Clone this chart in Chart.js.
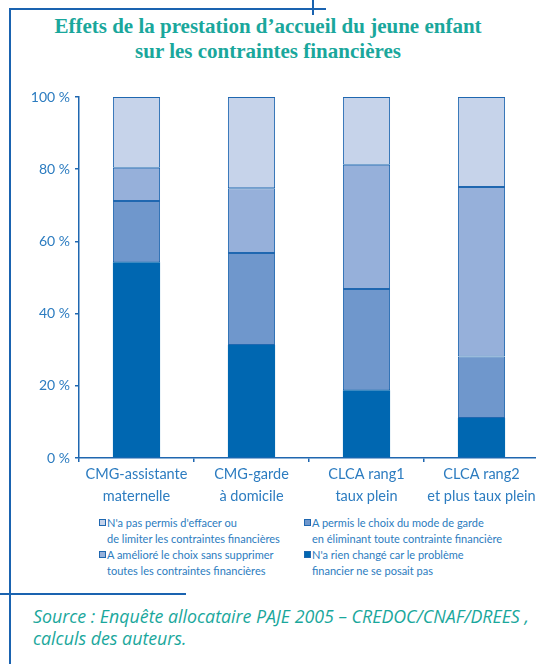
<!DOCTYPE html>
<html lang="fr">
<head>
<meta charset="utf-8">
<script src="https://cdn.jsdelivr.net/npm/chart.js@4.4.1/dist/chart.umd.min.js"></script>
<style>
  html, body { margin: 0; padding: 0; background: #fff; }
  body { width: 536px; height: 664px; position: relative; overflow: hidden; }
  .rule { position: absolute; background: #1a63b0; }
  #title {
    position: absolute; left: 0; top: 14px; width: 536px; text-align: center;
    font-family: "Liberation Serif", serif; font-weight: bold; font-size: 21px;
    line-height: 25px; color: #1aa79c;
  }
  #chart-box { position: absolute; left: 0; top: 0; width: 545px; height: 510px; }
  #legend {
    position: absolute; top: 515px; left: 0; width: 536px;
    font-family: Lato, sans-serif; font-size: 11px; line-height: 15.5px; color: #2c7cc0;
  }
  .item { position: absolute; }
  .item .sq {
    position: absolute; left: 0; top: 4px; width: 5px; height: 5px;
    border: 1px solid #1f67b0;
  }
  .item .txt { margin-left: 8px; white-space: nowrap; }
  #source {
    position: absolute; left: 33px; top: 605px; white-space: nowrap;
    font-family: "Open Sans", sans-serif; font-style: italic; font-size: 17.8px;
    line-height: 22px; color: #1aa79c;
  }
</style>
</head>
<body>
<div class="rule" style="left:9px; top:8px; width:317px; height:1.5px;"></div>
<div class="rule" style="left:312px; top:0px; width:1.5px; height:15px;"></div>
<div class="rule" style="left:9px; top:8px; width:1.5px; height:656px;"></div>
<div class="rule" style="left:0px; top:593px; width:186px; height:1.5px;"></div>

<div id="title">Effets de la prestation d’accueil du jeune enfant<br>sur les contraintes financières</div>
<div id="chart-box"><canvas id="chart" width="545" height="510"></canvas></div>
<div id="legend"></div>
<div id="source">Source : Enquête allocataire PAJE 2005 – CREDOC/CNAF/DREES ,<br>calculs des auteurs.</div>

<script>
// Catégories (axe X)
const categories = [
    ['CMG-assistante', 'maternelle'],
    ['CMG-garde', 'à domicile'],
    ['CLCA rang1', 'taux plein'],
    ['CLCA rang2', 'et plus taux plein']
];

// Valeurs en % (du bas vers le haut de chaque barre)
const rienChange = [54.2, 31.3, 18.8, 11.1];
const choixElimine = [17.0, 25.5, 28.0, 17.0];
const choixAmeliore = [9.2, 17.9, 34.4, 47.0];
const pasPermis = [19.6, 25.3, 18.8, 24.9];

const yTicks = [0, 20, 40, 60, 80, 100];

// Libellés de la légende (plusieurs lignes)
const legendRienChange = ["N'a rien changé car le problème", 'financier ne se posait pas'];
const legendElimine = ['A permis le choix du mode de garde', 'en éliminant toute contrainte financière'];
const legendAmeliore = ['A amélioré le choix sans supprimer', 'toutes les contraintes financières'];
const legendPasPermis = ["N'a pas permis d'effacer ou", 'de limiter les contraintes financières'];

const colDark = '#0067b1';
const colMid = '#6f97cc';
const colLight = '#96b0da';
const colPale = '#c6d3ea';
const lineColor = '#1f67b0';
const textColor = '#2c7cc0';

function makeSet(labelLines, data, color, showBorder) {
    return {
        label: labelLines.join(' '),
        legendLines: labelLines,
        data: data,
        backgroundColor: color,
        borderColor: showBorder ? lineColor : color,
        borderWidth: showBorder ? 1 : 0,
        borderSkipped: false,
        categoryPercentage: 1,
        barPercentage: 0.41
    };
}

const datasets = [
    makeSet(legendRienChange, rienChange, colDark, false),
    makeSet(legendElimine, choixElimine, colMid, true),
    makeSet(legendAmeliore, choixAmeliore, colLight, true),
    makeSet(legendPasPermis, pasPermis, colPale, true)
];

new Chart(document.getElementById('chart').getContext('2d'), {
    type: 'bar',
    data: { labels: categories, datasets: datasets },
    options: {
        responsive: false,
        animation: false,
        layout: { padding: { top: 97, right: 6, left: 0, bottom: 0 } },
        plugins: { legend: { display: false }, tooltip: { enabled: false } },
        scales: {
            x: {
                stacked: true,
                afterFit: function(scale) { scale.height = 52; },
                border: { color: lineColor, width: 1.5 },
                grid: { drawOnChartArea: false, color: lineColor, tickLength: 4, lineWidth: 1.5 },
                ticks: {
                    color: textColor, padding: 1,
                    maxRotation: 0, minRotation: 0, autoSkip: false,
                    font: { family: 'Lato', size: 14.5, lineHeight: 1.55 }
                }
            },
            y: {
                stacked: true,
                min: 0, max: 100,
                afterFit: function(scale) { scale.width = 79; },
                afterBuildTicks: function(scale) {
                    scale.ticks = yTicks.map(function(v) { return { value: v }; });
                },
                border: { color: lineColor, width: 1.5 },
                grid: { drawOnChartArea: false, color: lineColor, tickLength: 4, lineWidth: 1.5 },
                ticks: {
                    color: textColor, padding: 5,
                    font: { family: 'Lato', size: 14 },
                    callback: function(v) { return v + ' %'; }
                }
            }
        }
    }
});

// Légende HTML : colonne gauche (pâle, claire), colonne droite (moyenne, foncée)
const legendBox = document.getElementById('legend');
const legendPlaces = [
    { set: datasets[3], left: 99, top: 0 },
    { set: datasets[2], left: 99, top: 32 },
    { set: datasets[1], left: 304, top: 0 },
    { set: datasets[0], left: 304, top: 32 }
];
legendPlaces.forEach(function(p) {
    const el = document.createElement('div');
    el.className = 'item';
    el.style.left = p.left + 'px';
    el.style.top = p.top + 'px';
    el.innerHTML = '<div class="sq" style="background:' + p.set.backgroundColor + '"></div>' +
        '<div class="txt">' + p.set.legendLines.join('<br>') + '</div>';
    legendBox.appendChild(el);
});
</script>
</body>
</html>
